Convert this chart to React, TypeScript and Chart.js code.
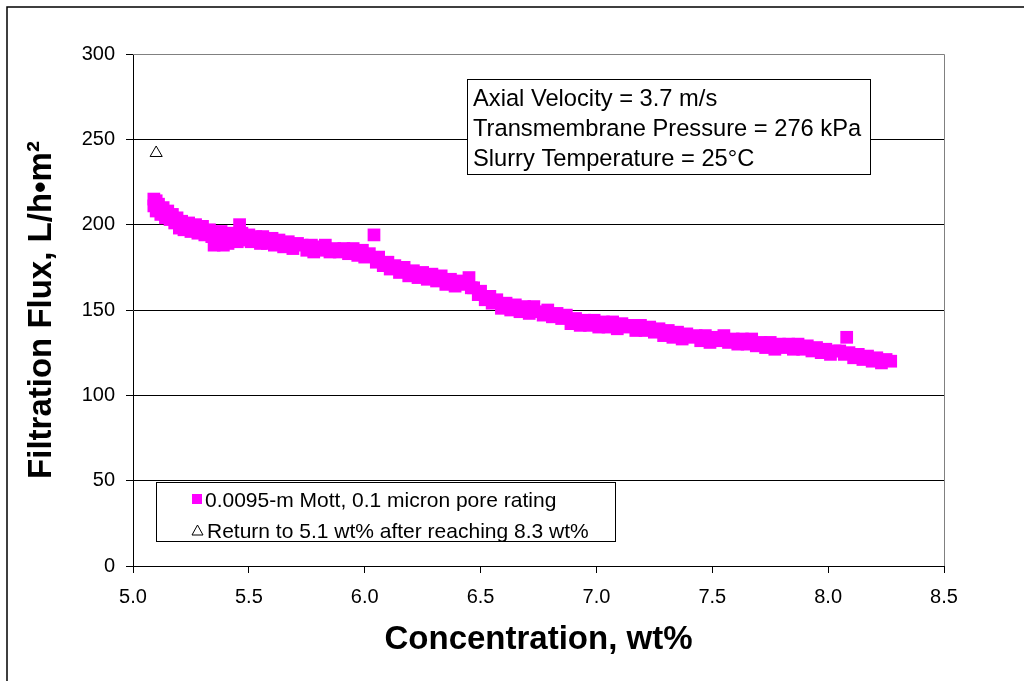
import React, { useEffect, useRef } from 'react';
import { Chart, registerables } from 'chart.js';

Chart.register(...registerables);

const concentration = [
  5.09, 5.09, 5.10, 5.10, 5.11, 5.12, 5.13, 5.14, 5.15, 5.16,
  5.17, 5.18, 5.19, 5.20, 5.21, 5.22, 5.24, 5.25, 5.27, 5.28,
  5.30, 5.31, 5.33, 5.34, 5.35, 5.36, 5.38, 5.39, 5.40, 5.41,
  5.42, 5.44, 5.45, 5.46, 5.47, 5.48, 5.50, 5.51, 5.53, 5.55,
  5.56, 5.58, 5.60, 5.61, 5.63, 5.65, 5.67, 5.69, 5.71, 5.73,
  5.75, 5.77, 5.78, 5.80, 5.82, 5.83, 5.85, 5.87, 5.89, 5.91,
  5.93, 5.95, 5.97, 5.99, 6.00, 6.02, 6.04, 6.05, 6.06, 6.08,
  6.10, 6.11, 6.13, 6.15, 6.17, 6.19, 6.21, 6.23, 6.25, 6.27,
  6.29, 6.31, 6.33, 6.35, 6.37, 6.39, 6.41, 6.43, 6.45, 6.46,
  6.47, 6.49, 6.50, 6.52, 6.54, 6.55, 6.57, 6.59, 6.61, 6.63,
  6.65, 6.67, 6.69, 6.71, 6.73, 6.75, 6.77, 6.79, 6.81, 6.83,
  6.85, 6.87, 6.89, 6.91, 6.93, 6.95, 6.97, 6.99, 7.01, 7.03,
  7.05, 7.07, 7.09, 7.11, 7.13, 7.15, 7.17, 7.19, 7.21, 7.23,
  7.25, 7.27, 7.29, 7.31, 7.33, 7.35, 7.37, 7.39, 7.41, 7.43,
  7.45, 7.47, 7.49, 7.51, 7.53, 7.55, 7.57, 7.59, 7.61, 7.63,
  7.65, 7.67, 7.69, 7.71, 7.73, 7.75, 7.77, 7.79, 7.81, 7.83,
  7.85, 7.87, 7.89, 7.91, 7.93, 7.95, 7.97, 7.99, 8.01, 8.03,
  8.05, 8.07, 8.08, 8.09, 8.11, 8.13, 8.15, 8.17, 8.19, 8.21,
  8.23, 8.25, 8.27,
];

const flux = [
  215, 211, 214, 208, 212, 206, 210, 204, 208, 203,
  206, 201, 204, 198, 202, 197, 201, 196, 200, 195,
  199, 194, 197, 193, 188, 195, 196, 188, 193, 189,
  195, 192, 190, 200, 195, 191, 194, 190, 193, 189,
  193, 189, 192, 188, 191, 187, 190, 186, 189, 188,
  185, 188, 184, 187, 185, 188, 184, 186, 184, 186,
  183, 186, 182, 185, 181, 183, 194, 178, 181, 176,
  178, 174, 176, 172, 175, 170, 173, 169, 172, 168,
  171, 167, 170, 165, 168, 164, 167, 165, 169, 163,
  163, 159, 161, 156, 158, 154, 156, 151, 154, 150,
  153, 149, 152, 148, 152, 149, 147, 150, 146, 148,
  145, 147, 142, 145, 141, 144, 141, 144, 140, 143,
  140, 143, 139, 142, 140, 141, 138, 141, 138, 140,
  137, 139, 135, 138, 134, 137, 133, 136, 134, 135,
  132, 135, 131, 134, 132, 135, 131, 133, 130, 133,
  130, 133, 129, 131, 128, 131, 127, 130, 128, 130,
  127, 130, 127, 129, 126, 128, 125, 127, 124, 126,
  126, 124, 134, 125, 122, 124, 121, 123, 120, 122,
  119, 121, 120,
];

const returnConcentration = [5.1];
const returnFlux = [242];

const seriesLabels = [
  '0.0095-m Mott, 0.1 micron pore rating',
  'Return to 5.1 wt% after reaching 8.3 wt%',
];

const annotationLines = [
  'Axial Velocity = 3.7 m/s',
  'Transmembrane Pressure = 276 kPa',
  'Slurry Temperature = 25°C',
];

const xTitle = 'Concentration, wt%';
const yTitle = 'Filtration Flux, L/h•m²';

const FONT = '"Liberation Sans", Arial, Helvetica, sans-serif';
const MAGENTA = '#FF00FF';

const decorPlugin = {
  id: 'decor',
  beforeDraw(chart: any) {
    const ctx = chart.ctx;
    ctx.save();
    ctx.fillStyle = '#fff';
    ctx.fillRect(0, 0, chart.width, chart.height);
    ctx.strokeStyle = '#000';
    ctx.lineWidth = 1.5;
    ctx.beginPath();
    ctx.moveTo(7, chart.height);
    ctx.lineTo(7, 7);
    ctx.lineTo(chart.width, 7);
    ctx.stroke();
    ctx.restore();
  },
  afterDraw(chart: any) {
    const ctx = chart.ctx;
    const a = chart.chartArea;
    ctx.save();
    ctx.strokeStyle = '#808080';
    ctx.lineWidth = 1;
    ctx.beginPath();
    ctx.moveTo(a.left, a.top + 0.5);
    ctx.lineTo(a.right + 0.5, a.top + 0.5);
    ctx.lineTo(a.right + 0.5, a.bottom);
    ctx.stroke();

    // annotation box
    ctx.fillStyle = '#fff';
    ctx.fillRect(467, 79, 403, 95);
    ctx.strokeStyle = '#000';
    ctx.strokeRect(467.5, 79.5, 403, 95);
    ctx.fillStyle = '#000';
    ctx.font = `23.7px ${FONT}`;
    ctx.textBaseline = 'alphabetic';
    ctx.textAlign = 'left';
    annotationLines.forEach((t, i) => ctx.fillText(t, 473, 106 + i * 30));

    // legend box
    ctx.fillStyle = '#fff';
    ctx.fillRect(156, 482, 459, 59);
    ctx.strokeStyle = '#000';
    ctx.strokeRect(156.5, 482.5, 459, 59);
    ctx.font = `21px ${FONT}`;
    ctx.fillStyle = MAGENTA;
    ctx.fillRect(192, 494, 10, 10);
    ctx.fillStyle = '#000';
    ctx.fillText(seriesLabels[0], 205, 507);
    ctx.beginPath();
    ctx.moveTo(197.5, 525);
    ctx.lineTo(203, 535);
    ctx.lineTo(192, 535);
    ctx.closePath();
    ctx.fillStyle = '#fff';
    ctx.fill();
    ctx.strokeStyle = '#000';
    ctx.lineWidth = 1;
    ctx.stroke();
    ctx.fillStyle = '#000';
    ctx.fillText(seriesLabels[1], 207, 538);
    ctx.restore();
  },
};

export default function App() {
  const ref = useRef<HTMLCanvasElement | null>(null);

  useEffect(() => {
    document.body.style.margin = '0';
    const canvas = ref.current;
    if (!canvas) return;
    const chart = new Chart(canvas, {
      type: 'scatter',
      data: {
        datasets: [
          {
            label: seriesLabels[0],
            data: concentration.map((x, i) => ({ x, y: flux[i] })),
            pointStyle: 'rect',
            pointRadius: 9,
            pointBackgroundColor: MAGENTA,
            pointBorderWidth: 0,
            pointBorderColor: MAGENTA,
            showLine: false,
          },
          {
            label: seriesLabels[1],
            data: returnConcentration.map((x, i) => ({ x, y: returnFlux[i] })),
            pointStyle: 'triangle',
            pointRadius: 7,
            pointBackgroundColor: '#fff',
            pointBorderColor: '#000',
            pointBorderWidth: 1,
            showLine: false,
          },
        ],
      },
      options: {
        responsive: false,
        animation: false,
        devicePixelRatio: 1,
        layout: { padding: { top: 54, right: 80, bottom: 0, left: 0 } },
        plugins: {
          legend: { display: false },
          tooltip: { enabled: false },
          title: { display: false },
        },
        scales: {
          x: {
            type: 'linear',
            min: 5,
            max: 8.5,
            afterFit: (s: any) => { s.height = 115; },
            ticks: {
              stepSize: 0.5,
              color: '#000',
              font: { family: FONT, size: 20 },
              padding: 12,
              maxRotation: 0,
              callback: (v: any) => Number(v).toFixed(1),
            },
            grid: {
              drawOnChartArea: false,
              drawTicks: true,
              tickLength: 7,
              tickColor: '#000',
              color: '#000',
            },
            border: { display: true, color: '#000', width: 1 },
            title: {
              display: true,
              text: xTitle,
              color: '#000',
              font: { family: FONT, size: 33, weight: 'bold' },
              padding: { top: 0, bottom: 21 },
            },
          },
          y: {
            type: 'linear',
            min: 0,
            max: 300,
            afterFit: (s: any) => { s.width = 133; },
            ticks: {
              stepSize: 50,
              color: '#000',
              font: { family: FONT, size: 20 },
              padding: 11,
            },
            grid: {
              drawOnChartArea: true,
              drawTicks: true,
              tickLength: 7,
              tickColor: '#000',
              color: (c: any) => (c.tick && c.tick.value === 300 ? '#808080' : '#000'),
            },
            border: { display: true, color: '#000', width: 1 },
            title: {
              display: true,
              text: yTitle,
              color: '#000',
              font: { family: FONT, size: 33, weight: 'bold' },
              padding: { top: 22, bottom: 0 },
            },
          },
        },
      },
      plugins: [decorPlugin],
    } as any);
    return () => chart.destroy();
  }, []);

  return (
    <div style={{ position: 'absolute', left: 0, top: 0, width: 1024, height: 681 }}>
      <canvas ref={ref} width={1024} height={681} style={{ display: 'block' }} />
    </div>
  );
}
